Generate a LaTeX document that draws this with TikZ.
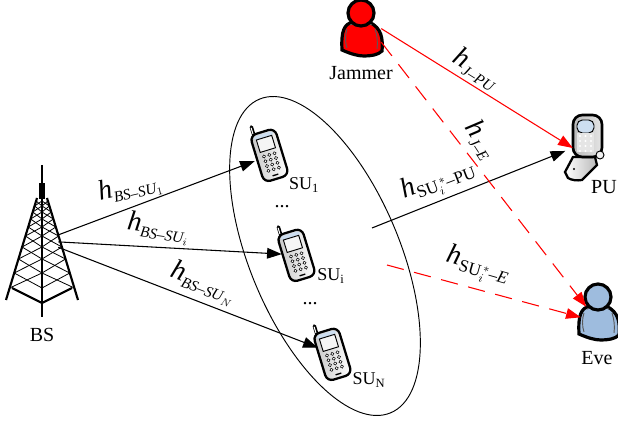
\documentclass[tikz,border=0pt]{standalone}
\usepackage{amsmath}
\usepackage{fontspec}
\setmainfont{Liberation Serif}
\usetikzlibrary{arrows.meta,positioning,shapes.geometric}
\definecolor{evecol}{RGB}{158,188,222}
\definecolor{screencol}{RGB}{205,222,240}
\newcommand{\chanlabel}[2][11.5]{{\fontsize{21}{21}\selectfont\itshape h}\raisebox{-4pt}{\fontsize{#1}{12}\selectfont #2}}

\tikzset{
  pics/phone/.style={code={
    \begin{scope}[rotate=17]
      \draw[line width=2.6pt, line cap=round] (-9,-22) -- (-9,-31);
      \draw[line width=0.8pt, white, line cap=round] (-9.5,-24) -- (-9.5,-30);
      \draw[line width=1.7pt, left color=gray!45, right color=white, rounded corners=5pt] (-13,-23) rectangle (13,26);
      \fill[screencol, rounded corners=2pt] (-10,-21) rectangle (10,-17);
      \draw[line width=0.7pt, fill=gray!8] (-8,-17) rectangle (8,-4);
      \foreach \kx in {-5.5,0,5.5}
        \foreach \ky in {1,6,11,16}
          \draw[line width=0.4pt, fill=white] (\kx,\ky) circle (1.6);
      \draw[line width=1pt] (-3,22) -- (3,22);
    \end{scope}
  }},
  pics/person/.style={code={
    \draw[line width=2.4pt, fill=#1] (-8,9) .. controls (-17,11) and (-20,18) .. (-19,37)
      .. controls (-10,41) and (-3,43) .. (3,43) .. controls (10,43) and (17,42) .. (21,38)
      .. controls (22,26) and (21,15) .. (8,9) -- cycle;
    \draw[line width=0.7pt, gray!70!black] (-14,16) .. controls (-16,22) and (-16,29) .. (-14,35);
    \draw[line width=0.7pt, gray!70!black] (14,16) .. controls (16,22) and (17,29) .. (16,36);
    \draw[line width=0.7pt, gray!70!black] (-11,12) .. controls (-4,9) and (4,9) .. (11,12);
    \draw[line width=2.4pt, fill=#1] (0,0) circle (13);
  }},
  pics/tower/.style={code={
    \draw[line width=1.6pt] (0,-76) -- (0,76);
    \fill (-3,-58) rectangle (3,-42);
    \draw[line width=1.6pt] (-5,-43) -- (-36,59);
    \draw[line width=1.6pt] (5,-43) -- (36,59);
    \draw[line width=1.6pt] (-30,47) -- (0,62) -- (30,47);
    \foreach \ya/\yb in {-40/-35,-35/-29,-29/-22,-22/-14,-14/-5,-5/6,6/18,18/32,32/47} {
      \pgfmathsetmacro{\wa}{5+31*(\ya+43)/102}
      \pgfmathsetmacro{\wb}{5+31*(\yb+43)/102}
      \draw[line width=0.6pt] (-\wa,\ya) -- (0,\yb) -- (\wa,\ya);
      \draw[line width=0.6pt] (-\wb,\yb) -- (0,\ya) -- (\wb,\yb);
    }
  }},
  pics/flipphone/.style={code={
    \draw[line width=1.7pt, left color=white, right color=gray!55] (-24,24) -- (-16,9) -- (6,9) -- (8,17) -- (-7,32)
      .. controls (-12,33) and (-18,32) .. (-21,30) -- cycle;
    \fill (-15,21) circle (1.2);
    \draw[line width=2pt, left color=gray!55, right color=gray!20, rounded corners=7pt] (-16,9) -- (-16,-33) -- (13,-33) -- (13,9) -- cycle;
    \draw[line width=0.7pt, fill=screencol, rounded corners=4pt] (-12,-15) -- (-12,-28) -- (5,-28) -- (5,-15) -- cycle;
    \fill[gray!20] (-12,-15) rectangle (5,4);
    \foreach \kx in {-9,-3.5,2}
      \foreach \ky in {-12,-7,-2,3}
        \fill[white] (\kx,\ky) circle (1.2);
    \draw[line width=0.7pt, fill=gray!10] (11,7) circle (4);
  }}
}

\begin{document}
\begin{tikzpicture}[
  x=0.75pt,
  y=-0.75pt,
  every node/.style={font=\fontsize{15}{17}\selectfont},
  iconbox/.style={inner sep=0pt, minimum width=24pt, minimum height=24pt},
  textbox/.style={inner sep=0pt},
  sulabel/.style={textbox, font=\fontsize{13.5}{15}\selectfont},
  link/.style={-{Triangle[length=11pt,width=8pt]}, line width=0.8pt},
  jamlink/.style={link, red},
  jamdash/.style={jamlink, dash pattern=on 13pt off 8pt}
]
\useasboundingbox (0,0) rectangle (618,427);

% nodes
\node[iconbox] (bs) at (42,241) {};
\node[iconbox] (su1) at (271,155) {};
\node[iconbox] (sui) at (298,255) {};
\node[iconbox] (sun) at (334,354) {};
\node[iconbox, minimum width=30pt, minimum height=60pt] (jammer) at (361,16) {};
\node[iconbox] (pu) at (589,148) {};
\node[iconbox, minimum width=25.5pt, minimum height=22.5pt] (eve) at (598,322) {};

\node[draw, ellipse, line width=0.7pt, rotate=22.7, minimum width=112.5pt, minimum height=255pt, inner sep=0pt] (group) at (325,256) {};
\coordinate (sustar) at (372,228);
\coordinate (sustarE) at (387,265);

% icons
\pic at (bs) {tower};
\pic at ([xshift=-1.5pt,yshift=0.8pt]su1) {phone};
\pic at ([xshift=-1.5pt,yshift=0.8pt]sui) {phone};
\pic at ([xshift=-1.5pt,yshift=0.8pt]sun) {phone};
\pic at (361,13) {person=red};
\pic at (598,297) {person=evecol};
\pic at (pu) {flipphone};

% connectors
\draw[link] (bs) -- (su1);
\draw[link] (bs) -- (sui);
\draw[link] (bs) -- (sun);
\draw[link, shorten >=6pt] (sustar) -- (pu.west);
\draw[jamlink] (jammer) -- (pu.west);
\draw[jamdash] (jammer) -- (eve);
\draw[jamdash] (sustarE) -- (eve);

% texts
\node[textbox] (bstext) at (42,335) {BS};
\node[sulabel] (su1text) at (304,185) {SU$_{\text{1}}$};
\node[sulabel] (suitext) at (331,276) {SU$_{\text{i}}$};
\node[sulabel] (suntext) at (369,380) {SU$_{\text{N}}$};
\node[textbox] (dotsa) at (282,207) {...};
\node[textbox] (dotsb) at (310,304) {...};
\node[textbox] (jamtext) at (361,73) {Jammer};
\node[textbox] (putext) at (604,187) {PU};
\node[textbox] (evetext) at (597,358) {Eve};

\node[textbox, rotate=13] (hsu1) at (130,188) {\chanlabel{\itshape BS--SU$_1$}};
\node[textbox, rotate=-8] (hsui) at (158,228) {\chanlabel{\itshape BS--SU$_i$}};
\node[textbox, rotate=-21] (hsun) at (203,283) {\chanlabel{\itshape BS--SU$_N$}};
\node[textbox, rotate=-32] (hjpu) at (476,69) {\chanlabel{\itshape J--PU}};
\node[textbox, rotate=-57] (hje) at (481,140) {\chanlabel{\itshape J--E}};
\node[textbox, rotate=21] (hpu) at (438,181) {\chanlabel[13]{SU$_{i}^{\,*}$--PU}};
\node[textbox, rotate=-16] (he) at (478,266) {\chanlabel[13]{SU$_{i}^{\,*}$--\textit{E}}};
\end{tikzpicture}
\end{document}
